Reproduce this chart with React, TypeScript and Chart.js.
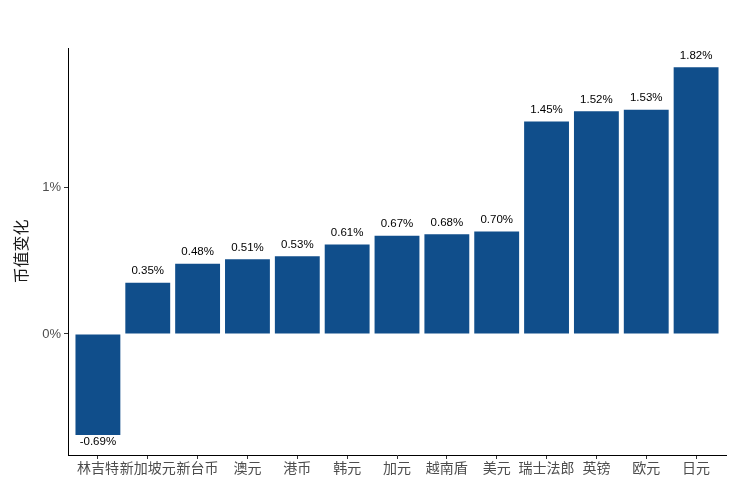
import React, { useEffect, useRef } from "react";
import { Chart, registerables } from "chart.js";

Chart.register(...registerables);

const categories = ["林吉特", "新加坡元", "新台币", "澳元", "港币", "韩元", "加元", "越南盾", "美元", "瑞士法郎", "英镑", "欧元", "日元"];
const values = [-0.69, 0.35, 0.48, 0.51, 0.53, 0.61, 0.67, 0.68, 0.70, 1.45, 1.52, 1.53, 1.82];
const yTicks = [0, 1];
const yTitle = "币值变化";

const FONT = "'Liberation Sans', 'Noto Sans CJK SC', sans-serif";

const labelPlugin = {
  id: "barLabels",
  afterDatasetsDraw(chart: any) {
    const ctx = chart.ctx;
    const meta = chart.getDatasetMeta(0);
    ctx.save();
    ctx.font = `11.5px ${FONT}`;
    ctx.fillStyle = "#000000";
    ctx.textAlign = "center";
    meta.data.forEach((bar: any, i: number) => {
      const v = values[i];
      const txt = v.toFixed(2) + "%";
      if (v >= 0) {
        ctx.textBaseline = "bottom";
        ctx.fillText(txt, bar.x, bar.y - 6);
      } else {
        ctx.textBaseline = "top";
        ctx.fillText(txt, bar.x, bar.y + 1);
      }
    });
    ctx.restore();
  },
};

export default function App() {
  const ref = useRef<HTMLCanvasElement>(null);
  useEffect(() => {
    if (!ref.current) return;
    const chart = new Chart(ref.current, {
      type: "bar",
      data: {
        datasets: [
          {
            data: values.map((v, i) => ({ x: i, y: v })),
            backgroundColor: "#104E8B",
            borderWidth: 0,
            barPercentage: 0.9,
            categoryPercentage: 1,
          },
        ],
      },
      options: {
        animation: false,
        responsive: true,
        maintainAspectRatio: false,
        layout: { padding: { top: 48, right: 19, left: 0, bottom: 0 } },
        plugins: { legend: { display: false }, tooltip: { enabled: false } },
        scales: {
          x: {
            type: "linear",
            min: -0.6,
            max: 12.6,
            offset: false,
            afterBuildTicks: (s: any) => {
              s.ticks = categories.map((_, i) => ({ value: i }));
            },
            afterFit: (s: any) => {
              s.height = 24;
            },
            ticks: {
              autoSkip: false,
              maxRotation: 0,
              padding: 2,
              color: "#4d4d4d",
              font: { family: FONT, size: 14 },
              callback: (v: any) => categories[v as number] ?? "",
            },
            grid: { offset: false, drawOnChartArea: false, drawTicks: true, tickLength: 4, color: "#333333" },
            border: { display: true, color: "#000000", width: 1 },
          },
          y: {
            min: -0.826,
            max: 1.952,
            afterBuildTicks: (s: any) => {
              s.ticks = yTicks.map((v) => ({ value: v }));
            },
            afterFit: (s: any) => {
              s.width = 68;
            },
            ticks: {
              color: "#4d4d4d",
              padding: 3,
              font: { family: FONT, size: 13 },
              callback: (v: any) => `${v}%`,
            },
            grid: { drawOnChartArea: false, drawTicks: true, tickLength: 4, color: "#333333" },
            border: { display: true, color: "#000000", width: 1 },
            title: {
              display: true,
              text: yTitle,
              color: "#1a1a1a",
              font: { family: FONT, size: 16 },
              padding: { top: 13, bottom: 0 },
            },
          },
        },
      },
      plugins: [labelPlugin],
    } as any);
    return () => chart.destroy();
  }, []);
  return (
    <div style={{ position: "fixed", left: 0, top: 0, width: 745, height: 479, background: "#fff" }}>
      <canvas ref={ref} />
    </div>
  );
}
